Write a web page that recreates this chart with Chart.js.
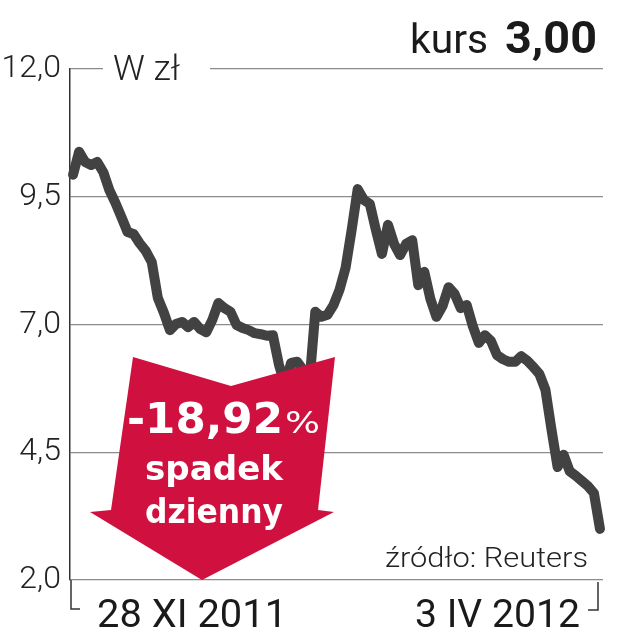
<!DOCTYPE html>
<html><head><meta charset="utf-8">
<script src="https://cdn.jsdelivr.net/npm/chart.js@4"></script>
<style>html,body{margin:0;padding:0;background:#fff}#wrap{width:635px;height:640px;position:relative}</style>
</head><body><div id="wrap"><canvas id="c" width="635" height="640"></canvas></div>
<script>
// ---- data ----
const sessions = [
 '2011-11-28','2011-11-29','2011-11-30','2011-12-01','2011-12-02','2011-12-05','2011-12-06','2011-12-07','2011-12-08','2011-12-09',
 '2011-12-12','2011-12-13','2011-12-14','2011-12-15','2011-12-16','2011-12-19','2011-12-20','2011-12-21','2011-12-22','2011-12-23',
 '2011-12-27','2011-12-28','2011-12-29','2012-01-03','2012-01-04','2012-01-05','2012-01-09','2012-01-10','2012-01-11','2012-01-12',
 '2012-01-13','2012-01-16','2012-01-17','2012-01-18','2012-01-19','2012-01-20','2012-01-23','2012-01-24','2012-01-25','2012-01-26',
 '2012-01-27','2012-01-30','2012-01-31','2012-02-01','2012-02-02','2012-02-03','2012-02-06','2012-02-07','2012-02-08','2012-02-09',
 '2012-02-10','2012-02-13','2012-02-14','2012-02-15','2012-02-16','2012-02-17','2012-02-20','2012-02-21','2012-02-22','2012-02-23',
 '2012-02-24','2012-02-27','2012-02-28','2012-02-29','2012-03-01','2012-03-02','2012-03-05','2012-03-06','2012-03-07','2012-03-08',
 '2012-03-09','2012-03-12','2012-03-13','2012-03-14','2012-03-15','2012-03-16','2012-03-19','2012-03-20','2012-03-21','2012-03-22',
 '2012-03-23','2012-03-26','2012-03-27','2012-03-28','2012-03-29','2012-03-30','2012-04-02','2012-04-03'
];
const prices = [
 9.93, 10.38, 10.18, 10.12, 10.18, 9.98, 9.63, 9.38, 9.10, 8.81,
 8.77, 8.59, 8.44, 8.22, 7.52, 7.23, 6.89, 7.01, 7.05, 6.95,
 7.05, 6.91, 6.85, 7.09, 7.42, 7.32, 7.25, 6.99, 6.93, 6.89,
 6.83, 6.81, 6.78, 6.79, 6.21, 5.82, 6.25, 6.27, 6.11, 5.82,
 7.25, 7.15, 7.19, 7.38, 7.68, 8.11, 8.85, 9.65, 9.44, 9.36,
 8.85, 8.38, 8.95, 8.58, 8.36, 8.58, 8.65, 7.77, 8.03, 7.50,
 7.15, 7.36, 7.73, 7.60, 7.32, 7.38, 6.97, 6.64, 6.79, 6.68,
 6.40, 6.32, 6.27, 6.27, 6.38, 6.29, 6.17, 6.03, 5.72, 4.94,
 4.21, 4.45, 4.13, 4.04, 3.94, 3.84, 3.70, 3.00
];
const yTicks = [2.0, 4.5, 7.0, 9.5, 12.0];
const xEndLabels = ['28 XI 2011', '3 IV 2012'];
const unitLabel = 'W zł';
const lastPriceLabels = ['kurs', '3,00'];
const changeLabels = ['-18,92', '%', 'spadek', 'dzienny'];
const sourceLabel = 'źródło: Reuters';

// ---- helpers ----
function fitText(ctx, text, x, y, w, font, color, align) {
  ctx.save();
  ctx.font = font;
  ctx.fillStyle = color;
  ctx.textAlign = 'left';
  ctx.textBaseline = 'alphabetic';
  const m = ctx.measureText(text).width;
  const left = align === 'right' ? x - w : (align === 'center' ? x - w / 2 : x);
  ctx.translate(left, y);
  ctx.scale(w / m, 1);
  ctx.fillText(text, 0, 0);
  ctx.restore();
}

const decor = {
  id: 'decor',
  afterDatasetsDraw(chart) {
    const ctx = chart.ctx;
    const a = chart.chartArea;
    const L = a.left, T = a.top, B = a.bottom, R = a.right;
    // red arrow
    ctx.save();
    ctx.fillStyle = '#d0103e';
    ctx.beginPath();
    const pts = [[L+63,T+288],[L+161,T+317],[L+265,T+288],[L+248,T+441],[L+264,T+443],[L+132,B],[L+20,T+443],[L+41,T+441]];
    pts.forEach((p, i) => i ? ctx.lineTo(p[0], p[1]) : ctx.moveTo(p[0], p[1]));
    ctx.closePath();
    ctx.fill();
    ctx.restore();
    fitText(ctx, changeLabels[0], L+57, T+364, 156, 'bold 43px "DejaVu Sans"', '#fff');
    fitText(ctx, changeLabels[1], L+215, T+364, 35, '31px "DejaVu Sans"', '#fff');
    fitText(ctx, changeLabels[2], L+75, T+411, 138, 'bold 33px "DejaVu Sans"', '#fff');
    fitText(ctx, changeLabels[3], L+75, T+454, 138, 'bold 33px "DejaVu Sans"', '#fff');

    // unit label over top gridline
    ctx.save();
    ctx.fillStyle = '#fff';
    ctx.fillRect(L+33, T-10, 107, 20);
    ctx.restore();
    fitText(ctx, unitLabel, L+43, T+11, 67, '300 35px Roboto', '#222');

    // header
    fitText(ctx, lastPriceLabels[0], 410, 53, 78, '400 41px Roboto', '#1a1a1a');
    fitText(ctx, lastPriceLabels[1], 505, 53, 92, 'bold 44px Roboto', '#1a1a1a');

    // source
    fitText(ctx, sourceLabel, 588, 567, 203, '300 28px Roboto', '#222', 'right');

    // x end labels and brackets
    const x0 = chart.scales.x.getPixelForValue(0);
    const x1 = chart.scales.x.getPixelForValue(prices.length - 1);
    fitText(ctx, xEndLabels[0], x0 + 24, 627, 190, '400 38px Roboto', '#1a1a1a');
    fitText(ctx, xEndLabels[1], x1 - 20, 627, 165, '400 38px Roboto', '#1a1a1a', 'right');
    ctx.save();
    ctx.strokeStyle = '#333';
    ctx.lineWidth = 1.5;
    ctx.beginPath();
    ctx.moveTo(L + 1, B); ctx.lineTo(L + 1, B + 29); ctx.lineTo(L + 10, B + 29);
    ctx.moveTo(R - 5, B + 2); ctx.lineTo(R - 5, B + 30); ctx.lineTo(R - 15, B + 30);
    ctx.stroke();
    ctx.restore();
  }
};

new Chart(document.getElementById('c'), {
  type: 'line',
  data: {
    labels: sessions,
    datasets: [{
      data: prices,
      borderColor: '#424242',
      borderWidth: 10,
      borderJoinStyle: 'round',
      borderCapStyle: 'round',
      pointRadius: 0,
      tension: 0,
      fill: false
    }]
  },
  options: {
    responsive: false,
    animation: false,
    devicePixelRatio: 1,
    layout: { padding: { left: 0, right: 32, top: 69, bottom: 60 } },
    plugins: { legend: { display: false }, tooltip: { enabled: false } },
    scales: {
      x: { type: 'category', display: false, offset: true },
      y: {
        min: 2, max: 12,
        afterFit: s => { s.width = 70; },
        afterBuildTicks: s => { s.ticks = yTicks.map(v => ({ value: v })); },
        ticks: {
          padding: 9,
          color: '#222',
          font: { family: 'Roboto', size: 32, weight: '300' },
          callback: v => v.toFixed(1).replace('.', ',')
        },
        grid: { color: '#8c8c8c', lineWidth: 1.3, drawTicks: false },
        border: { display: true, color: '#333', width: 1.5 }
      }
    }
  },
  plugins: [decor]
});
</script>
</body></html>
